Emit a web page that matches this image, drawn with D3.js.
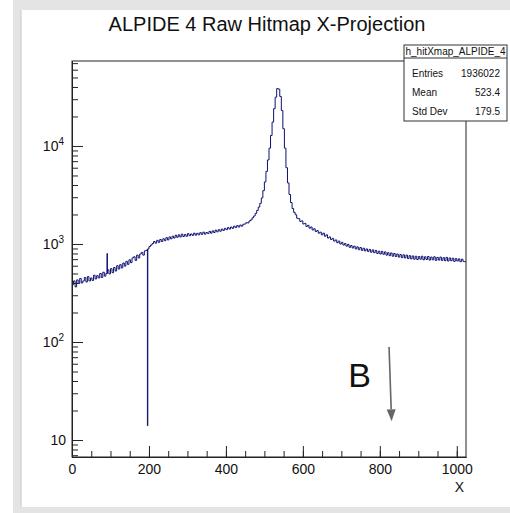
<!DOCTYPE html>
<html lang="en">
<head>
  <meta charset="UTF-8">
  <title>ALPIDE 4 Raw Hitmap X-Projection</title>
  <script src="https://d3js.org/d3.v7.min.js"></script>
  <style>
    body { margin: 0; padding: 0; background: #fff; }
    svg { display: block; font-family: 'Liberation Sans', Arial, sans-serif; }
  </style>
</head>
<body>
  <svg id="chart" width="510" height="513"></svg>
  <script>
    // histogram: 256 bins of width 4 over x = 0..1024
    const binWidth = 4;
    const counts = [
      385, 420, 365, 430, 395, 445, 400, 420, 455, 410, 465, 420, 450, 425, 480, 440,
      475, 450, 500, 455, 515, 470, 500, 545, 495, 560, 510, 575, 530, 600, 555, 615,
      570, 640, 595, 665, 620, 690, 645, 720, 740, 680, 770, 720, 790, 820, 770, 850,
      860, 890, 940, 975, 1010, 1060, 1020, 1090, 1040, 1110, 1060, 1130, 1080, 1160, 1100, 1180,
      1130, 1200, 1150, 1230, 1170, 1240, 1180, 1260, 1190, 1250, 1200, 1275, 1215, 1265, 1225, 1290,
      1230, 1285, 1240, 1305, 1255, 1320, 1260, 1310, 1280, 1345, 1290, 1360, 1310, 1385, 1330, 1400,
      1350, 1420, 1375, 1445, 1400, 1470, 1420, 1490, 1445, 1520, 1470, 1540, 1490, 1560, 1520, 1590,
      1600, 1650, 1640, 1720, 1760, 1850, 1930, 2050, 2200, 2380, 2600, 2950, 3500, 4300, 5500, 7200,
      9500, 12800, 17500, 24000, 31500, 38500, 38000, 32000, 23000, 15000, 9500, 6000, 4200, 3200, 2650, 2300,
      2100, 1990, 1830, 1810, 1700, 1720, 1600, 1620, 1510, 1550, 1450, 1490, 1390, 1430, 1340, 1370,
      1290, 1320, 1240, 1290, 1200, 1240, 1150, 1180, 1110, 1140, 1070, 1100, 1030, 1070, 1000, 1040,
      975, 1010, 950, 990, 925, 965, 910, 950, 890, 935, 875, 920, 860, 905, 850, 890,
      840, 880, 825, 870, 815, 860, 800, 845, 790, 840, 785, 830, 770, 815, 760, 810,
      750, 800, 745, 790, 735, 780, 725, 775, 720, 770, 710, 760, 705, 755, 700, 750,
      695, 745, 700, 750, 690, 740, 695, 745, 685, 735, 690, 740, 680, 730, 685, 735,
      680, 725, 675, 730, 670, 720, 675, 715, 665, 710, 670, 705, 660, 700, 665, 660
    ];
    // single-channel outliers (bin lower edge, count)
    const narrowX = [91, 196];
    const narrowCounts = [800, 14];

    const xMajorTicks = [0, 200, 400, 600, 800, 1000];
    const xMinorTicks = d3.range(0, 1001, 50);
    const yDecades = [10, 100, 1000, 10000];
    const yDecadeExp = ['', '2', '3', '4'];

    const statsName = 'h_hitXmap_ALPIDE_4';
    const statsLabels = ['Entries', 'Mean', 'Std Dev'];
    const statsValues = ['1936022', '523.4', '179.5'];

    const svg = d3.select('#chart');
    const W = 510, H = 513;
    const pLeft = 72, pRight = 466, pTop = 61, pBottom = 457;

    // canvas frame (window edges)
    svg.append('rect').attr('width', W).attr('height', H).attr('fill', '#fff');
    svg.append('rect').attr('x', 13).attr('y', 0).attr('width', W - 13).attr('height', 10).attr('fill', '#e4e4e4');
    svg.append('rect').attr('x', 13).attr('y', 0).attr('width', 8).attr('height', H).attr('fill', '#e4e4e4');
    svg.append('rect').attr('x', 13).attr('y', 507).attr('width', W - 13).attr('height', 6).attr('fill', '#e4e4e4');
    svg.append('line').attr('x1', 21).attr('x2', 21).attr('y1', 10).attr('y2', 507).attr('stroke', '#c8c8c8');

    const x = d3.scaleLinear().domain([0, 1024]).range([pLeft, pRight]);
    const y = d3.scaleLog().domain([6.71, 73600]).range([pBottom, pTop]);

    // histogram outline: coarse bins, split where a single-channel outlier sits
    const pts = [];
    counts.forEach((c, i) => {
      const lo = i * binWidth, hi = lo + binWidth;
      const k = narrowX.findIndex(v => v >= lo && v < hi);
      if (k < 0) {
        pts.push([lo, c]);
      } else {
        pts.push([lo, c]);
        pts.push([narrowX[k], narrowCounts[k]]);
        pts.push([narrowX[k] + 1, c]);
      }
    });
    pts.push([counts.length * binWidth, counts[counts.length - 1]]);
    const line = d3.line().x(d => x(d[0])).y(d => y(d[1])).curve(d3.curveStepAfter);
    svg.append('clipPath').attr('id', 'clip')
      .append('rect').attr('x', pLeft).attr('y', pTop).attr('width', pRight - pLeft).attr('height', pBottom - pTop);
    svg.append('path').datum(pts)
      .attr('d', line)
      .attr('clip-path', 'url(#clip)')
      .attr('fill', 'none')
      .attr('stroke', '#0d1170')
      .attr('stroke-width', 1);

    // frame
    svg.append('rect').attr('x', pLeft).attr('y', pTop).attr('width', pRight - pLeft).attr('height', pBottom - pTop)
      .attr('fill', 'none').attr('stroke', '#222');

    // x axis
    const gx = svg.append('g').attr('transform', `translate(0,${pBottom})`);
    gx.call(d3.axisBottom(x).tickValues(xMinorTicks).tickSizeInner(-6).tickSizeOuter(0).tickFormat(''));
    const gxm = svg.append('g').attr('transform', `translate(0,${pBottom})`);
    gxm.call(d3.axisBottom(x).tickValues(xMajorTicks).tickSizeInner(-11).tickSizeOuter(0)
      .tickPadding(7).tickFormat(d3.format('d')));
    [gx, gxm].forEach(g => {
      g.select('.domain').attr('stroke', '#222');
      g.selectAll('line').attr('stroke', '#222');
    });
    gxm.selectAll('text').attr('font-size', 14).attr('fill', '#111').attr('font-family', "'Liberation Sans', Arial, sans-serif");

    svg.append('text').attr('x', pRight - 2).attr('y', 492).attr('text-anchor', 'end')
      .attr('font-size', 14).attr('fill', '#111').text('X');

    // y axis
    const yMinor = [];
    [1, 10, 100, 1000, 10000].forEach(d => {
      for (let k = 2; k <= 9; k++) {
        const v = d * k;
        if (v >= 6.71 && v <= 73600) yMinor.push(v);
      }
    });
    const gy = svg.append('g').attr('transform', `translate(${pLeft},0)`);
    gy.call(d3.axisLeft(y).tickValues(yMinor).tickSizeInner(-6).tickSizeOuter(0).tickFormat(''));
    const gym = svg.append('g').attr('transform', `translate(${pLeft},0)`);
    gym.call(d3.axisLeft(y).tickValues(yDecades).tickSizeInner(-11).tickSizeOuter(0).tickFormat(''));
    [gy, gym].forEach(g => {
      g.select('.domain').attr('stroke', '#222');
      g.selectAll('line').attr('stroke', '#222');
    });

    yDecades.forEach((v, i) => {
      const t = svg.append('text')
        .attr('x', yDecadeExp[i] ? 64 : 66)
        .attr('y', y(v) + 5)
        .attr('text-anchor', 'end')
        .attr('font-size', 14)
        .attr('fill', '#111');
      t.append('tspan').text('10');
      if (yDecadeExp[i]) {
        t.append('tspan').attr('dy', -6).attr('font-size', 10).text(yDecadeExp[i]);
      }
    });

    // title
    svg.append('text').attr('x', 267).attr('y', 31).attr('text-anchor', 'middle')
      .attr('font-size', 20).attr('fill', '#111').text('ALPIDE 4 Raw Hitmap X-Projection');

    // stats box
    const bx = 404, by = 45, bw = 103, bh = 76;
    const stats = svg.append('g');
    stats.append('rect').attr('x', bx).attr('y', by).attr('width', bw).attr('height', bh)
      .attr('fill', '#fff').attr('stroke', '#333');
    stats.append('line').attr('x1', bx).attr('x2', bx + bw).attr('y1', 58).attr('y2', 58).attr('stroke', '#333');
    stats.append('text').attr('x', bx + bw / 2).attr('y', 55).attr('text-anchor', 'middle')
      .attr('font-size', 10).attr('fill', '#111').text(statsName);
    statsLabels.forEach((lab, i) => {
      const yy = 77 + i * 19;
      stats.append('text').attr('x', bx + 8).attr('y', yy).attr('font-size', 10).attr('fill', '#111').text(lab);
      stats.append('text').attr('x', bx + bw - 7).attr('y', yy).attr('text-anchor', 'end')
        .attr('font-size', 10).attr('fill', '#111').text(statsValues[i]);
    });

    // annotation: letter and arrow
    svg.append('text').attr('x', x(718)).attr('y', y(34.7)).attr('font-size', 34).attr('fill', '#111').text('B');
    const ax1 = x(824), ay1 = y(89), ax2 = x(830.6), ay2 = y(15.5);
    const ang = Math.atan2(ay2 - ay1, ax2 - ax1);
    const hl = 12, hw = 4.5;
    const bxp = ax2 - hl * Math.cos(ang), byp = ay2 - hl * Math.sin(ang);
    svg.append('line').attr('x1', ax1).attr('y1', ay1).attr('x2', bxp).attr('y2', byp)
      .attr('stroke', '#666').attr('stroke-width', 1.6);
    svg.append('polygon')
      .attr('points', [
        [ax2, ay2],
        [bxp + hw * Math.sin(ang), byp - hw * Math.cos(ang)],
        [bxp - hw * Math.sin(ang), byp + hw * Math.cos(ang)]
      ].map(p => p.join(',')).join(' '))
      .attr('fill', '#666');
  </script>
</body>
</html>
